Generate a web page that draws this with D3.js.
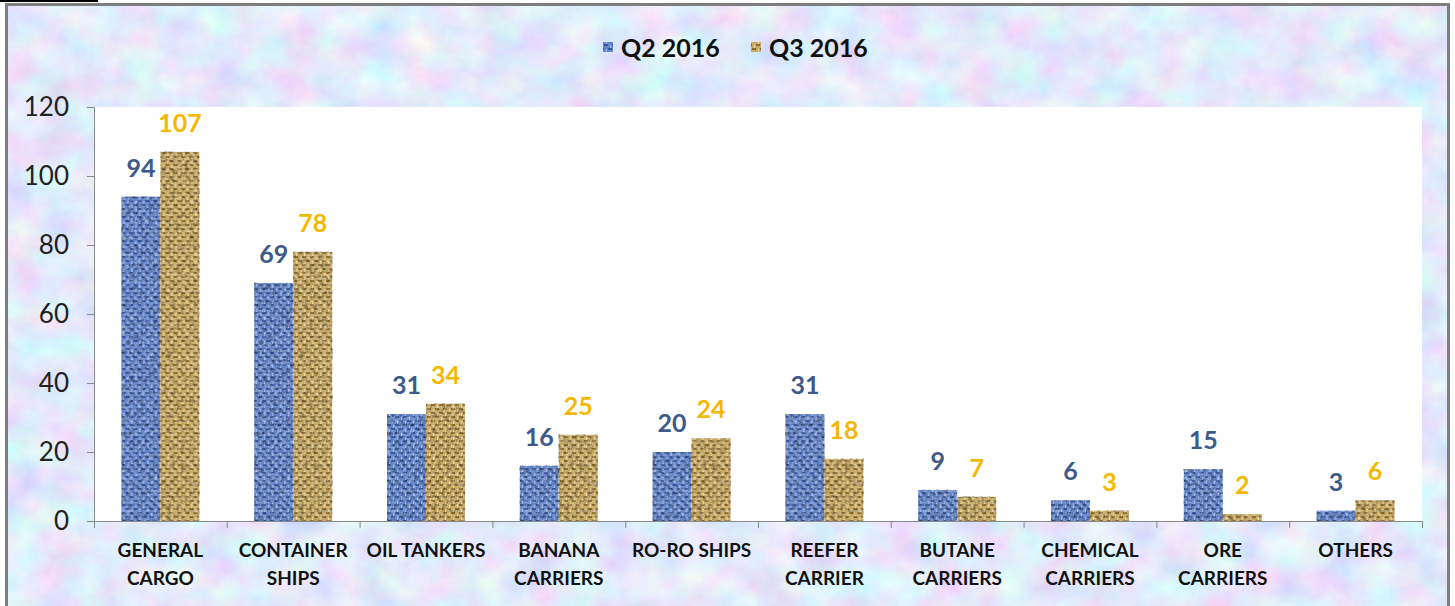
<!DOCTYPE html>
<html>
<head>
<meta charset="utf-8">
<script src="https://cdn.jsdelivr.net/npm/d3@7"></script>
<style>
  html, body { margin: 0; padding: 0; background: #fff; overflow: hidden; }
</style>
</head>
<body>
<div id="chart"></div>
<script>
const categories = [
  "GENERAL CARGO", "CONTAINER SHIPS", "OIL TANKERS", "BANANA CARRIERS", "RO-RO SHIPS",
  "REEFER CARRIER", "BUTANE CARRIERS", "CHEMICAL CARRIERS", "ORE CARRIERS", "OTHERS"
];
const categoryLines = [
  ["GENERAL", "CARGO"], ["CONTAINER", "SHIPS"], ["OIL TANKERS"], ["BANANA", "CARRIERS"], ["RO-RO SHIPS"],
  ["REEFER", "CARRIER"], ["BUTANE", "CARRIERS"], ["CHEMICAL", "CARRIERS"], ["ORE", "CARRIERS"], ["OTHERS"]
];
const seriesNames = ["Q2 2016", "Q3 2016"];
const q2 = [94, 69, 31, 16, 20, 31, 9, 6, 15, 3];
const q3 = [107, 78, 34, 25, 24, 18, 7, 3, 2, 6];
const yTicks = [0, 20, 40, 60, 80, 100, 120];

const W = 1455, H = 606;
const plot = {left: 94, right: 1422, top: 107, bottom: 521};

const svg = d3.select("#chart").append("svg")
  .attr("width", W).attr("height", H);

const defs = svg.append("defs");

// marbled pastel background
const bgF = defs.append("filter").attr("id", "marble")
  .attr("x", 0).attr("y", 0).attr("width", 1).attr("height", 1);
bgF.append("feTurbulence").attr("type", "fractalNoise")
  .attr("baseFrequency", "0.025 0.03").attr("numOctaves", 4).attr("seed", 7);
bgF.append("feColorMatrix").attr("type", "matrix")
  .attr("values", "0.5 0 -0.1 0 0.57  -0.1 0.5 0 0 0.62  0 0 0.2 0 0.86  0 0 0 0 1");

// mottled grain for bars (dark specks)
const grain = defs.append("filter").attr("id", "grain")
  .attr("x", 0).attr("y", 0).attr("width", 1).attr("height", 1);
grain.append("feTurbulence").attr("type", "fractalNoise")
  .attr("baseFrequency", 0.22).attr("numOctaves", 2).attr("seed", 3);
grain.append("feColorMatrix").attr("type", "matrix")
  .attr("values", "0 0 0 0 0  0 0 0 0 0  0 0 0 0 0  0 0 0 -3 1.6");

// light specks
const grainL = defs.append("filter").attr("id", "grainL")
  .attr("x", 0).attr("y", 0).attr("width", 1).attr("height", 1);
grainL.append("feTurbulence").attr("type", "fractalNoise")
  .attr("baseFrequency", 0.3).attr("numOctaves", 2).attr("seed", 11);
grainL.append("feColorMatrix").attr("type", "matrix")
  .attr("values", "0 0 0 0 1  0 0 0 0 1  0 0 0 0 1  0 0 0 -3 1.6");

function weave(id, base, dark, light) {
  const p = defs.append("pattern").attr("id", id)
    .attr("patternUnits", "userSpaceOnUse").attr("width", 8).attr("height", 8);
  p.append("rect").attr("width", 8).attr("height", 8).attr("fill", base);
  p.append("rect").attr("x", 0).attr("y", 0).attr("width", 4).attr("height", 2).attr("fill", dark);
  p.append("rect").attr("x", 4).attr("y", 4).attr("width", 4).attr("height", 2).attr("fill", dark);
  p.append("rect").attr("x", 6).attr("y", 1).attr("width", 1).attr("height", 3).attr("fill", light);
  p.append("rect").attr("x", 2).attr("y", 5).attr("width", 1).attr("height", 3).attr("fill", light);
}
weave("blueWeave", "#6587c9", "#3a5899", "#a4bcec");
weave("goldWeave", "#c9aa64", "#8a6c33", "#ecd8a2");
const fills = ["url(#blueWeave)", "url(#goldWeave)"];
const labelColors = ["#3c5a8a", "#f4b800"];

// page caption remnant (cut off at the top)
svg.append("line").attr("x1", 0).attr("x2", 98).attr("y1", 1).attr("y2", 1)
  .attr("stroke", "#000").attr("stroke-width", 2);

// frame + background
svg.append("rect").attr("x", 6).attr("y", 4).attr("width", 1443).attr("height", 640)
  .attr("fill", "#cbd4f0");
svg.append("rect").attr("x", 6).attr("y", 4).attr("width", 1443).attr("height", 640)
  .attr("filter", "url(#marble)");
svg.append("rect").attr("x", 6.5).attr("y", 4.5).attr("width", 1442).attr("height", 640)
  .attr("fill", "none").attr("stroke", "#7d7d7d").attr("stroke-width", 3);

// plot area
svg.append("rect").attr("x", plot.left).attr("y", plot.top)
  .attr("width", plot.right - plot.left).attr("height", plot.bottom - plot.top)
  .attr("fill", "#fff");

const x0 = d3.scaleBand().domain(categories)
  .range([plot.left, plot.right]).paddingInner(0.413).paddingOuter(0.2065);
const x1 = d3.scaleBand().domain(seriesNames).range([0, x0.bandwidth()]);
const y = d3.scaleLinear().domain([0, 120]).range([plot.bottom, plot.top]);

const font = "Lato, 'Open Sans', sans-serif";

// y axis
const yAxis = svg.append("g").attr("transform", `translate(${plot.left},0)`)
  .call(d3.axisLeft(y).tickValues(yTicks).tickSize(7).tickPadding(18));
yAxis.select(".domain").attr("stroke", "#8a8a8a");
yAxis.selectAll(".tick line").attr("stroke", "#8a8a8a");
yAxis.selectAll(".tick text").attr("font-family", font).attr("font-size", 26)
  .attr("fill", "#222");

// x axis line + boundary ticks
const step = x0.step();
svg.append("line").attr("x1", plot.left - 7).attr("x2", plot.right)
  .attr("y1", plot.bottom + 0.5).attr("y2", plot.bottom + 0.5).attr("stroke", "#8a8a8a");
svg.selectAll(".xtick").data(d3.range(categories.length + 1)).enter().append("line")
  .attr("x1", i => plot.left + i * step + 0.5).attr("x2", i => plot.left + i * step + 0.5)
  .attr("y1", plot.bottom).attr("y2", plot.bottom + 7).attr("stroke", "#8a8a8a");

// bars
const rows = categories.map((c, i) => ({cat: c, vals: [q2[i], q3[i]]}));
const grp = svg.selectAll(".grp").data(rows).enter().append("g")
  .attr("transform", d => `translate(${x0(d.cat)},0)`);
grp.each(function(d) {
  const g = d3.select(this);
  d.vals.forEach((v, s) => {
    const bx = x1(seriesNames[s]);
    const bw = x1.bandwidth(), bh = plot.bottom - y(v);
    g.append("rect").attr("x", bx).attr("y", y(v)).attr("width", bw).attr("height", bh)
      .attr("fill", fills[s]);
    g.append("rect").attr("x", bx).attr("y", y(v)).attr("width", bw).attr("height", bh)
      .attr("filter", "url(#grain)").attr("opacity", 0.3);
    g.append("rect").attr("x", bx).attr("y", y(v)).attr("width", bw).attr("height", bh)
      .attr("filter", "url(#grainL)").attr("opacity", 0.35);
    g.append("text").attr("x", bx + bw / 2).attr("y", y(v) - 20)
      .attr("text-anchor", "middle").attr("font-family", font).attr("font-size", 25)
      .attr("font-weight", "bold").attr("fill", labelColors[s]).text(v);
  });
});

// category labels
svg.selectAll(".cat").data(categoryLines).enter().append("text")
  .attr("x", (d, i) => x0(categories[i]) + x0.bandwidth() / 2)
  .attr("y", 557)
  .attr("text-anchor", "middle").attr("font-family", font).attr("font-size", 19)
  .attr("font-weight", "bold").attr("fill", "#111")
  .each(function(lines) {
    lines.forEach((l, k) => d3.select(this).append("tspan")
      .attr("x", d3.select(this).attr("x")).attr("dy", k === 0 ? 0 : 28).text(l));
  });

// legend
const legendX = [603, 751];
seriesNames.forEach((n, s) => {
  svg.append("rect").attr("x", legendX[s]).attr("y", 42).attr("width", 10).attr("height", 10)
    .attr("fill", fills[s]);
  svg.append("text").attr("x", legendX[s] + 18).attr("y", 57)
    .attr("font-family", font).attr("font-size", 25).attr("font-weight", "bold")
    .attr("fill", "#111").text(n);
});
</script>
</body>
</html>
